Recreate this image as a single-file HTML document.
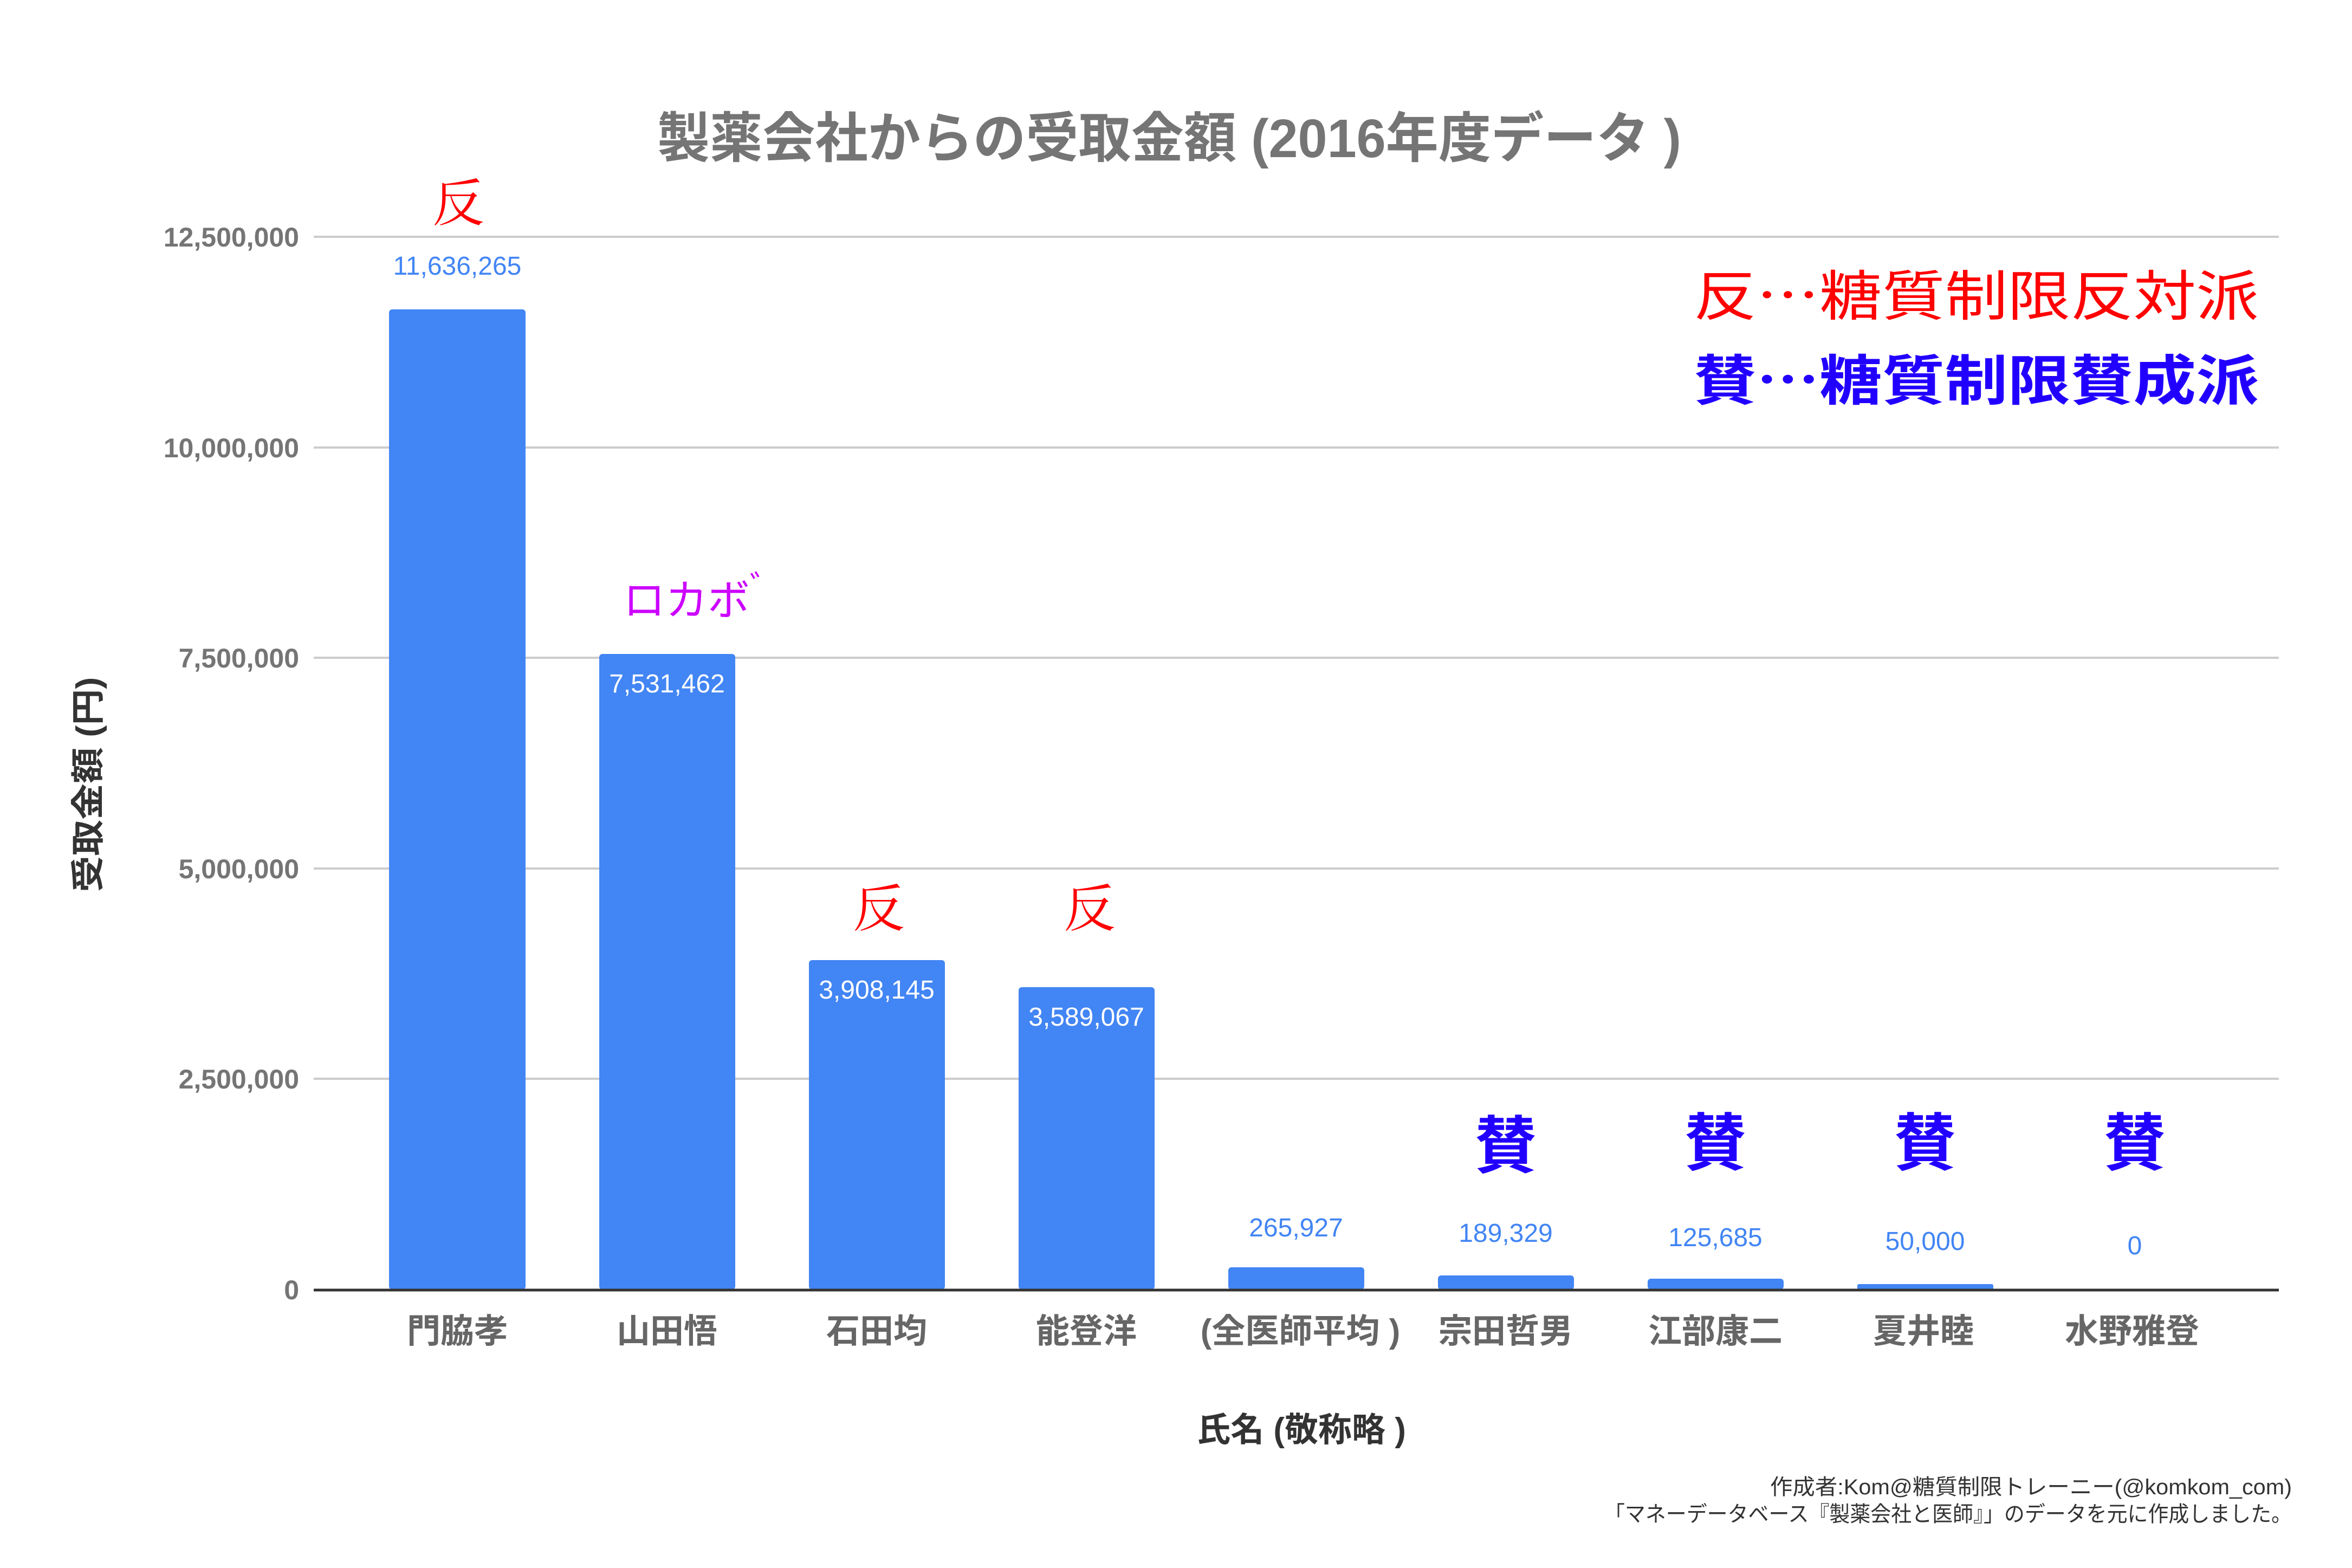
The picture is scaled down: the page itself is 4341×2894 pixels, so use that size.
<!DOCTYPE html>
<html><head><meta charset="utf-8"><style>html,body{margin:0;padding:0;background:#fff}svg{display:block}</style></head>
<body>
<svg width="4341" height="2894" viewBox="0 0 4341 2894" xmlns="http://www.w3.org/2000/svg">
<rect width="4341" height="2894" fill="#fff"/>
<text x="2158" y="290" text-anchor="middle" font-family="Liberation Sans, Noto Sans CJK JP, sans-serif" font-weight="bold" font-size="100" fill="#757575" textLength="1890" lengthAdjust="spacingAndGlyphs">製薬会社からの受取金額 (2016年度データ )</text>
<g stroke="#cccccc" stroke-width="4">
<line x1="579" y1="437" x2="4206" y2="437"/>
<line x1="579" y1="826" x2="4206" y2="826"/>
<line x1="579" y1="1214" x2="4206" y2="1214"/>
<line x1="579" y1="1603" x2="4206" y2="1603"/>
<line x1="579" y1="1991" x2="4206" y2="1991"/>
</g>
<g font-family="Liberation Sans, sans-serif" font-weight="bold" font-size="50" fill="#757575" text-anchor="end">
<text x="552" y="455">12,500,000</text>
<text x="552" y="844">10,000,000</text>
<text x="552" y="1232">7,500,000</text>
<text x="552" y="1621">5,000,000</text>
<text x="552" y="2009">2,500,000</text>
<text x="552" y="2398">0</text>
</g>
<g fill="#4285f4">
<rect x="718" y="571" width="252" height="1809" rx="6"/>
<rect x="1106" y="1207" width="251" height="1173" rx="6"/>
<rect x="1493" y="1772" width="251" height="608" rx="6"/>
<rect x="1880" y="1822" width="251" height="558" rx="6"/>
<rect x="2267" y="2339" width="251" height="41" rx="6"/>
<rect x="2654" y="2354" width="251" height="26" rx="6"/>
<rect x="3041" y="2360" width="251" height="20" rx="6"/>
<rect x="3428" y="2370" width="251" height="10" rx="3"/>
</g>
<line x1="579" y1="2381" x2="4206" y2="2381" stroke="#333" stroke-width="5"/>
<g font-family="Liberation Sans, sans-serif" font-size="48" text-anchor="middle">
<text x="844" y="507" fill="#4285f4">11,636,265</text>
<text x="1231" y="1278" fill="#fff">7,531,462</text>
<text x="1618" y="1843" fill="#fff">3,908,145</text>
<text x="2005" y="1893" fill="#fff">3,589,067</text>
<text x="2392" y="2282" fill="#4285f4">265,927</text>
<text x="2779" y="2292" fill="#4285f4">189,329</text>
<text x="3166" y="2300" fill="#4285f4">125,685</text>
<text x="3553" y="2307" fill="#4285f4">50,000</text>
<text x="3940" y="2315" fill="#4285f4">0</text>
</g>
<g font-family="Liberation Sans, Noto Sans CJK JP, sans-serif" font-weight="bold" font-size="62" fill="#666" text-anchor="middle">
<text x="844" y="2478">門脇孝</text>
<text x="1231" y="2478">山田悟</text>
<text x="1618" y="2478">石田均</text>
<text x="2005" y="2478">能登洋</text>
<text x="2400" y="2478">(全医師平均 )</text>
<text x="2779" y="2478">宗田哲男</text>
<text x="3166" y="2478">江部康二</text>
<text x="3550" y="2478">夏井睦</text>
<text x="3935" y="2478">水野雅登</text>
</g>
<text x="2402" y="2660" text-anchor="middle" font-family="Liberation Sans, Noto Sans CJK JP, sans-serif" font-weight="bold" font-size="62" fill="#333">氏名 (敬称略 )</text>
<text transform="translate(184,1448) rotate(-90)" text-anchor="middle" font-family="Liberation Sans, Noto Sans CJK JP, sans-serif" font-weight="bold" font-size="62" fill="#333" textLength="397" lengthAdjust="spacingAndGlyphs">受取金額 (円)</text>
<g font-family="Noto Serif CJK SC, serif" font-size="95" fill="#ff0000" text-anchor="middle">
<text x="846" y="408">反</text>
<text x="1622" y="1710">反</text>
<text x="2011" y="1710">反</text>
</g>
<text x="1150" y="1135" font-family="Liberation Sans, Noto Sans CJK JP, sans-serif" font-size="78" fill="#cc00ff">ロカボ<tspan font-size="60" dy="-30">゛</tspan></text>
<g font-family="Liberation Sans, Noto Sans CJK JP, sans-serif" font-weight="bold" font-size="115" fill="#2200ff" text-anchor="middle">
<text x="2779" y="2155">賛</text>
<text x="3166" y="2150">賛</text>
<text x="3553" y="2150">賛</text>
<text x="3940" y="2150">賛</text>
</g>
<text x="3126" y="582" font-family="Noto Sans CJK JP, sans-serif" font-size="100" fill="#ff0000" textLength="1043" lengthAdjust="spacingAndGlyphs">反…糖質制限反対派</text>
<text x="3126" y="738" font-family="Noto Sans CJK JP, sans-serif" font-weight="bold" font-size="100" fill="#2200ff" textLength="1043" lengthAdjust="spacingAndGlyphs">賛…糖質制限賛成派</text>
<g font-family="Liberation Sans, Noto Sans CJK JP, sans-serif" font-size="40" fill="#333" text-anchor="end">
<text x="4230" y="2758" textLength="963" lengthAdjust="spacingAndGlyphs">作成者:Kom@糖質制限トレーニー(@komkom_com)</text>
<text x="4230" y="2808" textLength="1269" lengthAdjust="spacingAndGlyphs">「マネーデータベース『製薬会社と医師』」のデータを元に作成しました。</text>
</g>
</svg>
</body></html>
